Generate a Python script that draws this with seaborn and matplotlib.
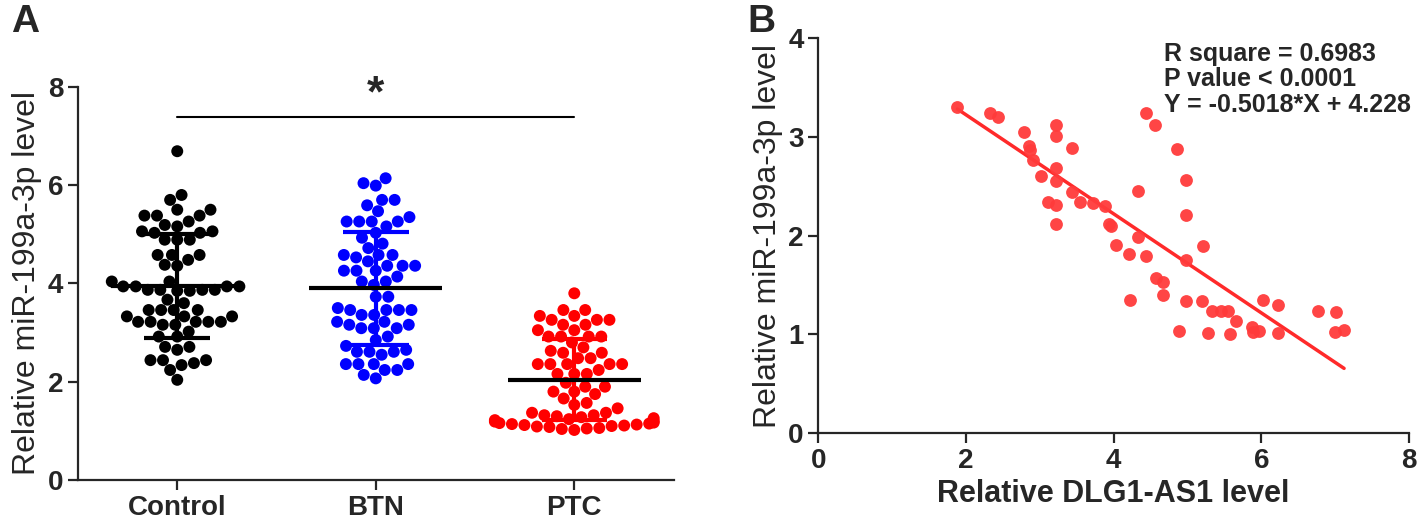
import numpy as np
import pandas as pd
import matplotlib
matplotlib.use("Agg")
import matplotlib.pyplot as plt
import seaborn as sns

# panel A: relative miR-199a-3p level per group
groups = ["Control", "BTN", "PTC"]
group_colors = ["#000000", "#0000FF", "#FF0000"]

control = [6.69, 5.80, 5.70, 5.50, 5.38, 5.38, 5.38, 5.50, 5.26, 5.19, 5.16,
           5.06, 5.06, 5.03, 5.03, 4.89, 4.89, 4.89, 4.58, 4.58, 4.58, 4.48,
           4.38, 4.36, 4.04, 4.04, 3.94, 3.94, 3.94, 3.94, 3.87, 3.87, 3.87,
           3.87, 3.85, 3.85, 3.67, 3.60, 3.46, 3.46, 3.46, 3.46, 3.33, 3.33,
           3.33, 3.22, 3.22, 3.22, 3.22, 3.22, 3.16, 3.16, 3.02, 2.92, 2.92,
           2.71, 2.71, 2.65, 2.44, 2.38, 2.44, 2.44, 2.34, 2.24, 2.04]
btn = [6.14, 6.04, 5.99, 5.70, 5.70, 5.59, 5.47, 5.35, 5.26, 5.26, 5.26, 5.26,
       5.16, 5.03, 4.93, 4.81, 4.72, 4.58, 4.58, 4.58, 4.53, 4.45, 4.36, 4.36,
       4.36, 4.26, 4.26, 4.26, 4.14, 4.04, 4.04, 3.97, 3.73, 3.73, 3.50, 3.46,
       3.46, 3.46, 3.46, 3.36, 3.36, 3.22, 3.22, 3.16, 3.16, 3.09, 3.09, 3.09,
       2.92, 2.85, 2.73, 2.65, 2.61, 2.61, 2.61, 2.55, 2.36, 2.36, 2.36, 2.36,
       2.24, 2.24, 2.14, 2.07]
ptc = [3.80, 3.46, 3.46, 3.34, 3.34, 3.26, 3.26, 3.26, 3.16, 3.16, 3.05, 3.05,
       2.92, 2.92, 2.92, 2.92, 2.80, 2.70, 2.63, 2.59, 2.59, 2.48, 2.48, 2.36,
       2.36, 2.36, 2.36, 2.36, 2.24, 2.16, 2.16, 2.16, 1.98, 1.90, 1.90, 1.80,
       1.80, 1.75, 1.66, 1.57, 1.53, 1.46, 1.37, 1.37, 1.32, 1.32,
       1.30, 1.28, 1.26, 1.24, 1.22, 1.20, 1.19, 1.17, 1.16, 1.15, 1.14, 1.13,
       1.12, 1.11, 1.10, 1.09, 1.08, 1.06, 1.05, 1.04, 1.02]
group_values = [control, btn, ptc]

# panel B: DLG1-AS1 vs miR-199a-3p
dlg1_as1 = [1.885, 2.32, 2.44, 2.79, 2.85, 2.87, 2.91, 3.02, 3.11, 3.22, 3.22,
            3.22, 3.22, 3.22, 3.22, 3.44, 3.43, 3.54, 3.72, 3.88, 3.94, 3.97,
            4.03, 4.21, 4.44, 4.33, 4.33, 4.44, 4.56, 4.86, 4.98, 4.98, 5.21,
            4.98, 4.58, 4.67, 4.67, 4.22, 4.98, 5.20, 5.33, 4.88, 5.28, 5.46,
            5.55, 5.66, 6.02, 6.22, 5.58, 5.88, 5.89, 5.97, 6.22, 6.77, 7.01,
            7.00, 7.12]
mir_199a = [3.30, 3.24, 3.20, 3.05, 2.91, 2.87, 2.77, 2.60, 2.34, 2.31, 2.12,
            3.12, 3.01, 2.68, 2.55, 2.89, 2.44, 2.34, 2.33, 2.30, 2.12, 2.10,
            1.90, 1.81, 1.79, 2.45, 1.99, 3.24, 3.12, 2.88, 2.56, 2.21, 1.89,
            1.75, 1.57, 1.53, 1.40, 1.35, 1.34, 1.34, 1.24, 1.03, 1.01, 1.24,
            1.24, 1.13, 1.35, 1.30, 1.00, 1.07, 1.02, 1.03, 1.01, 1.24, 1.23,
            1.02, 1.04]
fit_slope = -0.5018
fit_intercept = 4.228
stats_lines = ["R square = 0.6983", "P value < 0.0001", "Y = -0.5018*X + 4.228"]

sns.set_style("ticks")
plt.rcParams["font.family"] = ["Liberation Sans", "DejaVu Sans"]
plt.rcParams["axes.linewidth"] = 1.6
plt.rcParams["xtick.major.width"] = 1.6
plt.rcParams["ytick.major.width"] = 1.6
plt.rcParams["xtick.major.size"] = 7
plt.rcParams["ytick.major.size"] = 7

fig = plt.figure(figsize=(14.18, 5.23), dpi=100)
ax_a = fig.add_axes([0.055, 0.082, 0.42, 0.752])
ax_b = fig.add_axes([0.577, 0.172, 0.4167, 0.755])

# ---- panel A
df_a = pd.DataFrame({
    "group": np.repeat(groups, [len(v) for v in group_values]),
    "value": np.concatenate(group_values),
})
sns.swarmplot(data=df_a, x="group", y="value", hue="group", order=groups,
              palette=group_colors, size=8.6, legend=False, ax=ax_a)

for i, (vals, col) in enumerate(zip(group_values, group_colors)):
    vals = np.asarray(vals)
    m, s = vals.mean(), vals.std(ddof=1)
    ax_a.vlines(i, m - s, m + s, color=col, lw=3, zorder=4)
    ax_a.hlines([m - s, m + s], i - 0.165, i + 0.165, color=col, lw=3, zorder=4)
    ax_a.hlines(m, i - 0.335, i + 0.335, color="black", lw=3, zorder=5)

ax_a.plot([0, 2], [7.39, 7.39], color="black", lw=1.5)
ax_a.text(1, 7.42, "*", ha="center", va="bottom", fontsize=32, fontweight="bold")

ax_a.set_xlim(-0.5, 2.5)
ax_a.set_ylim(0, 8)
ax_a.set_yticks([0, 2, 4, 6, 8])
ax_a.set_xlabel("")
ax_a.set_ylabel("Relative miR-199a-3p level", fontsize=23)
ax_a.tick_params(axis="both", labelsize=20)
for lab in ax_a.get_xticklabels() + ax_a.get_yticklabels():
    lab.set_fontweight("bold")
sns.despine(ax=ax_a)

# ---- panel B
sns.scatterplot(x=dlg1_as1, y=mir_199a, color="#FF3B3B", s=85, linewidth=0,
                alpha=0.95, ax=ax_b, zorder=3)
fit_x = np.array([min(dlg1_as1), max(dlg1_as1)])
sns.lineplot(x=fit_x, y=fit_slope * fit_x + fit_intercept, color="#FF2A2A",
             lw=2.5, ax=ax_b, zorder=2)

for k, line in enumerate(stats_lines):
    ax_b.text(0.585, 0.99 - k * 0.064, line, transform=ax_b.transAxes,
              fontsize=18, fontweight="bold", va="top")

ax_b.set_xlim(0, 8)
ax_b.set_ylim(0, 4)
ax_b.set_xticks([0, 2, 4, 6, 8])
ax_b.set_yticks([0, 1, 2, 3, 4])
ax_b.set_xlabel("Relative DLG1-AS1 level", fontsize=22, fontweight="bold")
ax_b.set_ylabel("Relative miR-199a-3p level", fontsize=23)
ax_b.tick_params(axis="both", labelsize=20)
for lab in ax_b.get_xticklabels() + ax_b.get_yticklabels():
    lab.set_fontweight("bold")
sns.despine(ax=ax_b)

fig.text(0.008, 0.993, "A", fontsize=28, fontweight="bold", va="top")
fig.text(0.527, 0.993, "B", fontsize=28, fontweight="bold", va="top")

fig.savefig("out.png", dpi=100)
